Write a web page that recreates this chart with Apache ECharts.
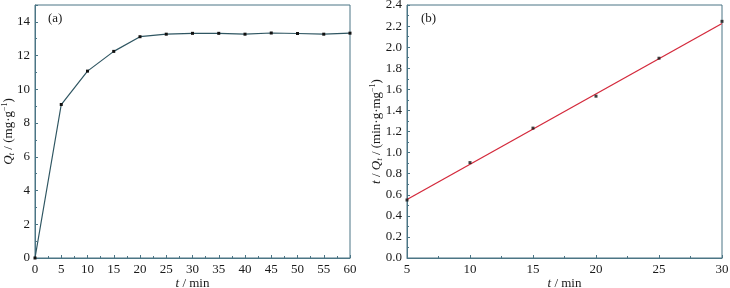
<!DOCTYPE html>
<html>
<head>
<meta charset="utf-8">
<script src="https://cdn.jsdelivr.net/npm/echarts@6/dist/echarts.min.js"></script>
<style>html,body{margin:0;padding:0;background:#fff;}#c{width:730px;height:288px;}</style>
</head>
<body>
<div id="c"></div>
<script>
// Panel (a): adsorption kinetics
var timeA = [0, 5, 10, 15, 20, 25, 30, 35, 40, 45, 50, 55, 60];
var qtA = [0, 9.1, 11.08, 12.25, 13.12, 13.27, 13.32, 13.32, 13.27, 13.34, 13.31, 13.27, 13.33];
// Panel (b): pseudo-second-order fit
var timeB = [5, 10, 15, 20, 25, 30];
var tqB = [0.55, 0.905, 1.232, 1.535, 1.895, 2.245];
var fitX = [5, 30];
var fitY = [0.555, 2.225];

var FONT = '"Liberation Serif", "Times New Roman", Times, serif';
var AXC = '#4b7585';
var labelStyle = {fontFamily: FONT, fontSize: 13, color: '#1a1a1a'};
var rich = {
  it: {fontFamily: FONT, fontSize: 13, fontStyle: 'italic', color: '#1a1a1a'},
  n: {fontFamily: FONT, fontSize: 13, color: '#1a1a1a'},
  sub: {fontFamily: FONT, fontSize: 9, fontStyle: 'italic', color: '#1a1a1a', verticalAlign: 'bottom', padding: [6, 0, 0, 0]},
  sup: {fontFamily: FONT, fontSize: 8, color: '#1a1a1a', verticalAlign: 'top', padding: [0, 0, 6, 0]}
};
function axisCommon() {
  return {
    axisLine: {show: true, lineStyle: {color: AXC, width: 1}},
    axisTick: {show: true, inside: true, length: 3, lineStyle: {color: AXC}},
    minorTick: {show: true, splitNumber: 2, length: 2, lineStyle: {color: AXC}},
    splitLine: {show: false},
    axisLabel: Object.assign({margin: 5}, labelStyle),
    nameTextStyle: {rich: rich},
    nameMoveOverlap: false
  };
}

var chart = echarts.init(document.getElementById('c'), null, {renderer: 'canvas'});
var xa0 = Object.assign(axisCommon(), {
  type: 'value', gridIndex: 0, min: 0, max: 60, interval: 5,
  name: '{it|t}{n| / min}', nameLocation: 'middle', nameGap: 19
});
var ya0 = Object.assign(axisCommon(), {
  type: 'value', gridIndex: 0, min: 0, max: 15, interval: 2,
  name: '{it|Q}{sub|t}{n| / (mg·g}{sup|−1}{n|)}', nameLocation: 'middle', nameGap: 19
});
ya0.axisLabel.showMaxLabel = false;
var xa1 = Object.assign(axisCommon(), {
  type: 'value', gridIndex: 1, min: 5, max: 30, interval: 5,
  name: '{it|t}{n| / min}', nameLocation: 'middle', nameGap: 19
});
var ya1 = Object.assign(axisCommon(), {
  type: 'value', gridIndex: 1, min: 0, max: 2.4, interval: 0.2,
  name: '{it|t}{n| / }{it|Q}{sub|t}{n| / (min·g·mg}{sup|−1}{n|)}', nameLocation: 'middle', nameGap: 23
});
ya1.axisLabel.formatter = function (v) { return v.toFixed(1); };

chart.setOption({
  animation: false,
  backgroundColor: '#ffffff',
  grid: [
    {left: 35, right: 380, top: 5, bottom: 30, show: true, borderColor: AXC, borderWidth: 1, backgroundColor: 'transparent', containLabel: false, outerBoundsMode: 'none'},
    {left: 407, right: 8, top: 5, bottom: 30, show: true, borderColor: AXC, borderWidth: 1, backgroundColor: 'transparent', containLabel: false, outerBoundsMode: 'none'}
  ],
  title: [
    {text: '(a)', left: 48, top: 12, textStyle: {fontFamily: FONT, fontSize: 13, fontWeight: 'normal', color: '#1a1a1a'}, padding: 0},
    {text: '(b)', left: 421, top: 12, textStyle: {fontFamily: FONT, fontSize: 13, fontWeight: 'normal', color: '#1a1a1a'}, padding: 0}
  ],
  xAxis: [xa0, xa1],
  yAxis: [ya0, ya1],
  series: [
    {
      type: 'line', xAxisIndex: 0, yAxisIndex: 0,
      data: timeA.map(function (t, i) { return [t, qtA[i]]; }),
      symbol: 'rect', symbolSize: 3, showSymbol: true,
      lineStyle: {color: '#2f5662', width: 1.2},
      itemStyle: {color: '#111'},
      clip: false, z: 3
    },
    {
      type: 'line', xAxisIndex: 1, yAxisIndex: 1,
      data: fitX.map(function (t, i) { return [t, fitY[i]]; }),
      symbol: 'none',
      lineStyle: {color: '#d42a3c', width: 1.3},
      z: 2
    },
    {
      type: 'scatter', xAxisIndex: 1, yAxisIndex: 1,
      data: timeB.map(function (t, i) { return [t, tqB[i]]; }),
      symbol: 'rect', symbolSize: 3,
      itemStyle: {color: '#111'},
      z: 4
    }
  ]
});
</script>
</body>
</html>
